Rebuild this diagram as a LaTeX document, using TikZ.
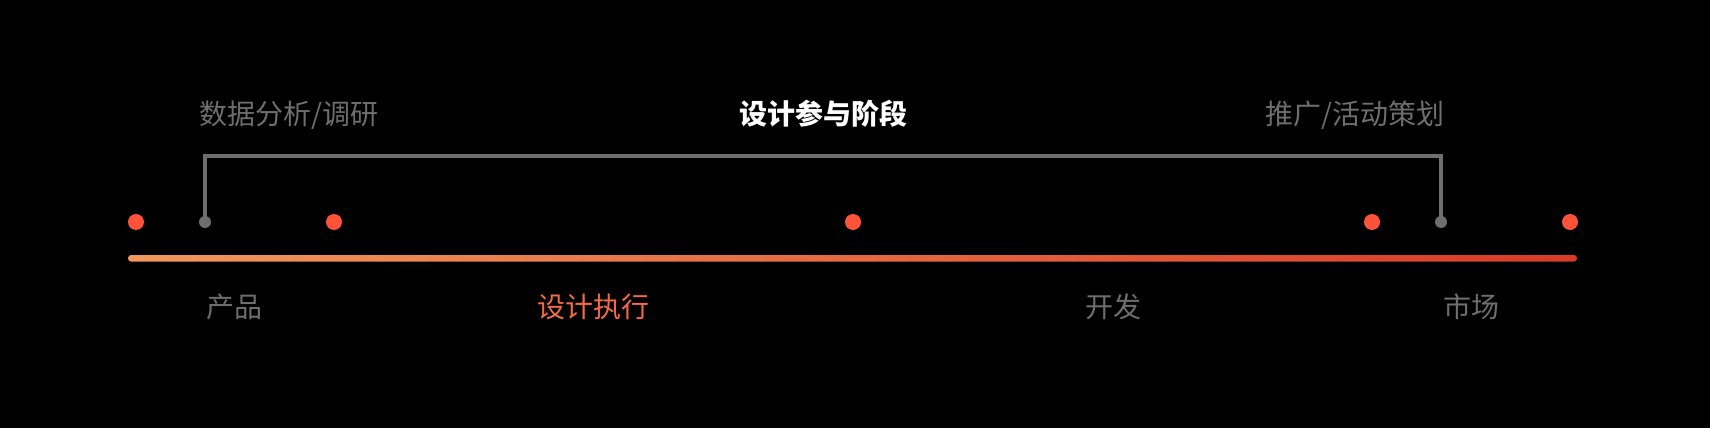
\documentclass[tikz,border=0pt]{standalone}
\usepackage{fontspec}
\newfontfamily\cjk{Noto Sans CJK SC}
\usetikzlibrary{positioning, calc}
\definecolor{ink}{HTML}{000000}
\definecolor{dotred}{HTML}{FF5339}
\definecolor{midgray}{HTML}{6E6E6E}
\definecolor{barlight}{HTML}{F0985C}
\definecolor{bardark}{HTML}{D83A27}
\definecolor{hotorange}{HTML}{F26A48}

\begin{document}
\begin{tikzpicture}[
  x=0.75pt, y=-0.75pt,
  every node/.style={font=\cjk\fontsize{21}{25}\selectfont, text=midgray, inner sep=0pt},
  reddot/.style={circle, fill=dotred, minimum size=12pt},
  graydot/.style={circle, fill=midgray, minimum size=9pt},
  bracket/.style={midgray, line width=2.4pt},
]

% Background
\fill[ink] (0,0) rectangle (1710,428);
\useasboundingbox (0,0) rectangle (1710,428);

% ============ Gradient bar ============
\shade[left color=barlight, right color=bardark, rounded corners=2.4pt]
  (128,255) rectangle (1577,261.6);

% ============ Dots ============
\node[reddot] (p1) at (136,222) {};
\node[reddot] (p2) at (334,222) {};
\node[reddot] (p3) at (853,222) {};
\node[reddot] (p4) at (1372,222) {};
\node[reddot] (p5) at (1570,222) {};

\node[graydot] (gl) at (205,222) {};
\node[graydot] (gr) at (1441,222) {};

% Bracket
\draw[bracket] (gl.center) -- ++(0,-66) -| (gr.center);

% ============ Top labels ============
\node (data) at (289,115) {数据分析/调研};
\node[font=\cjk\bfseries\fontsize{21}{25}\selectfont, text=white] (stage) at (823,114) {设计参与阶段};
\node (promo) at (1355,115) {推广/活动策划};

% ============ Bottom labels ============
\node (prod) at (234.5,307) {产品};
\node[text=hotorange] (exec) at (593,307) {设计执行};
\node (dev) at (1113.5,307) {开发};
\node (mkt) at (1471,307) {市场};

\end{tikzpicture}
\end{document}
